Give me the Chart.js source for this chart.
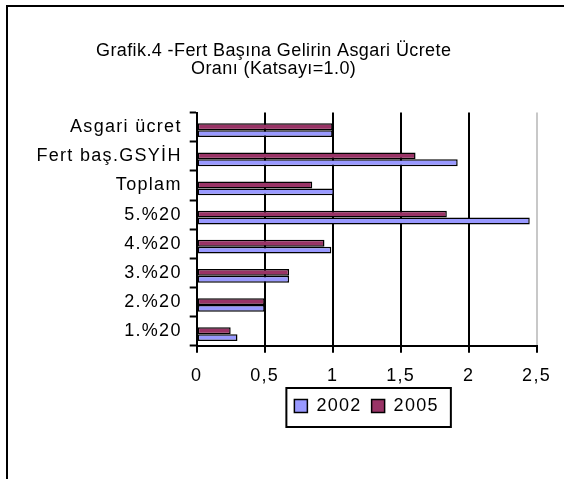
<!DOCTYPE html>
<html>
<head>
<meta charset="utf-8">
<script src="https://cdn.jsdelivr.net/npm/chart.js@4.4.1/dist/chart.umd.min.js"></script>
<style>
  html, body { margin: 0; padding: 0; background: #fff; }
  #wrap { position: relative; width: 564px; height: 479px; }
</style>
</head>
<body>
<div id="wrap"><canvas id="grafik"></canvas></div>
<script>
// Veriler (üstten alta)
const kategoriler = ['Asgari ücret', 'Fert baş.GSYİH', 'Toplam', '5.%20', '4.%20', '3.%20', '2.%20', '1.%20'];
const yil2002 = [1.00, 1.92, 1.01, 2.45, 0.99, 0.68, 0.50, 0.30];
const yil2005 = [1.00, 1.61, 0.85, 1.84, 0.94, 0.68, 0.50, 0.25];
const xTikler = [0, 0.5, 1, 1.5, 2, 2.5];
const baslik = ['Grafik.4 -Fert Başına Gelirin Asgari Ücrete', 'Oranı (Katsayı=1.0)'];

const mavi = '#9999ff';
const bordo = '#993366';
const yazi = "'Liberation Sans', Arial, sans-serif";

// Harf aralığı (orijinaldeki geniş yazı); başlıkta daha dar
const harfAraligi = {
    id: 'harfAraligi',
    afterInit(chart) {
        const t = chart.titleBlock;
        if (!t) return;
        const ciz = t.draw.bind(t);
        t.draw = (...a) => {
            const eski = chart.ctx.letterSpacing;
            chart.ctx.letterSpacing = '0.4px';
            ciz(...a);
            chart.ctx.letterSpacing = eski;
        };
    },
    beforeLayout(chart) { chart.ctx.letterSpacing = '1.3px'; },
    beforeDraw(chart) { chart.ctx.letterSpacing = '1.3px'; }
};

// Çubuklar orijinalde kategori ortasının biraz altında
const cubukKaydir = {
    id: 'cubukKaydir',
    beforeDatasetsDraw(chart) { chart.ctx.save(); chart.ctx.translate(0, 3); },
    afterDatasetsDraw(chart) { chart.ctx.restore(); }
};

// Beyaz zemin ve dış çerçeve
const cerceve = {
    id: 'cerceve',
    beforeDraw(chart) {
        const ctx = chart.ctx;
        ctx.save();
        ctx.fillStyle = '#fff';
        ctx.fillRect(0, 0, chart.width, chart.height);
        ctx.fillStyle = '#000';
        ctx.fillRect(6, 5, 2, chart.height - 5);
        ctx.fillRect(6, 5, chart.width - 6, 2);
        ctx.restore();
    }
};

// Lejant kutusu
const lejantKutusu = {
    id: 'lejantKutusu',
    afterDraw(chart) {
        const kutular = chart.legend && chart.legend.legendHitBoxes;
        if (!kutular || !kutular.length) return;
        const ilk = kutular[0];
        const son = kutular[kutular.length - 1];
        const orta = ilk.top + ilk.height / 2;
        const ctx = chart.ctx;
        ctx.save();
        ctx.strokeStyle = '#000';
        ctx.lineWidth = 2;
        ctx.strokeRect(ilk.left - 8, orta - 18, son.left + son.width - ilk.left + 20, 39);
        ctx.restore();
    }
};

Chart.defaults.font.family = yazi;
Chart.defaults.font.size = 18;
Chart.defaults.color = '#000';

new Chart(document.getElementById('grafik'), {
    type: 'bar',
    data: {
        labels: kategoriler,
        datasets: [
            {
                label: '2005',
                data: yil2005,
                backgroundColor: bordo,
                borderColor: '#000',
                borderWidth: 1.5,
                borderSkipped: false,
                categoryPercentage: 0.47,
                barPercentage: 1
            },
            {
                label: '2002',
                data: yil2002,
                backgroundColor: mavi,
                borderColor: '#000',
                borderWidth: 1.5,
                borderSkipped: false,
                categoryPercentage: 0.47,
                barPercentage: 1
            }
        ]
    },
    options: {
        indexAxis: 'y',
        responsive: true,
        maintainAspectRatio: false,
        animation: false,
        layout: {
            padding: { top: 8, left: 8, right: 24.7, bottom: 54 }
        },
        plugins: {
            title: {
                display: true,
                text: baslik,
                font: { size: 18, weight: 'normal', lineHeight: 1.03 },
                color: '#000',
                padding: { top: 33.5, bottom: 34 }
            },
            legend: {
                position: 'bottom',
                fullSize: false,
                reverse: true,
                labels: {
                    boxWidth: 13,
                    boxHeight: 13,
                    padding: 10,
                    font: { size: 18 },
                    color: '#000'
                }
            },
            tooltip: { enabled: false }
        },
        scales: {
            x: {
                min: 0,
                max: 2.5,
                afterBuildTicks(scale) {
                    scale.ticks = xTikler.map(v => ({ value: v }));
                },
                afterFit(scale) { scale.height = 41.3; },
                grid: {
                    color: c => (c.tick && c.tick.value === 2.5 ? '#c8c8c8' : '#000'),
                    lineWidth: 2,
                    drawTicks: true,
                    tickLength: 7,
                    tickColor: '#000',
                    tickWidth: 2
                },
                border: { display: true, color: '#000', width: 2 },
                ticks: {
                    padding: 13,
                    color: '#000',
                    font: { size: 18 },
                    callback: v => String(v).replace('.', ',')
                }
            },
            y: {
                afterFit(scale) { scale.width = 188.7; },
                grid: {
                    offset: true,
                    drawOnChartArea: false,
                    drawTicks: true,
                    tickLength: 7,
                    tickColor: '#000',
                    tickWidth: 2
                },
                border: { display: true, color: '#000', width: 2 },
                ticks: {
                    autoSkip: false,
                    padding: 8,
                    color: '#000',
                    font: { size: 18 }
                }
            }
        }
    },
    plugins: [harfAraligi, cubukKaydir, cerceve, lejantKutusu]
});
</script>
</body>
</html>
